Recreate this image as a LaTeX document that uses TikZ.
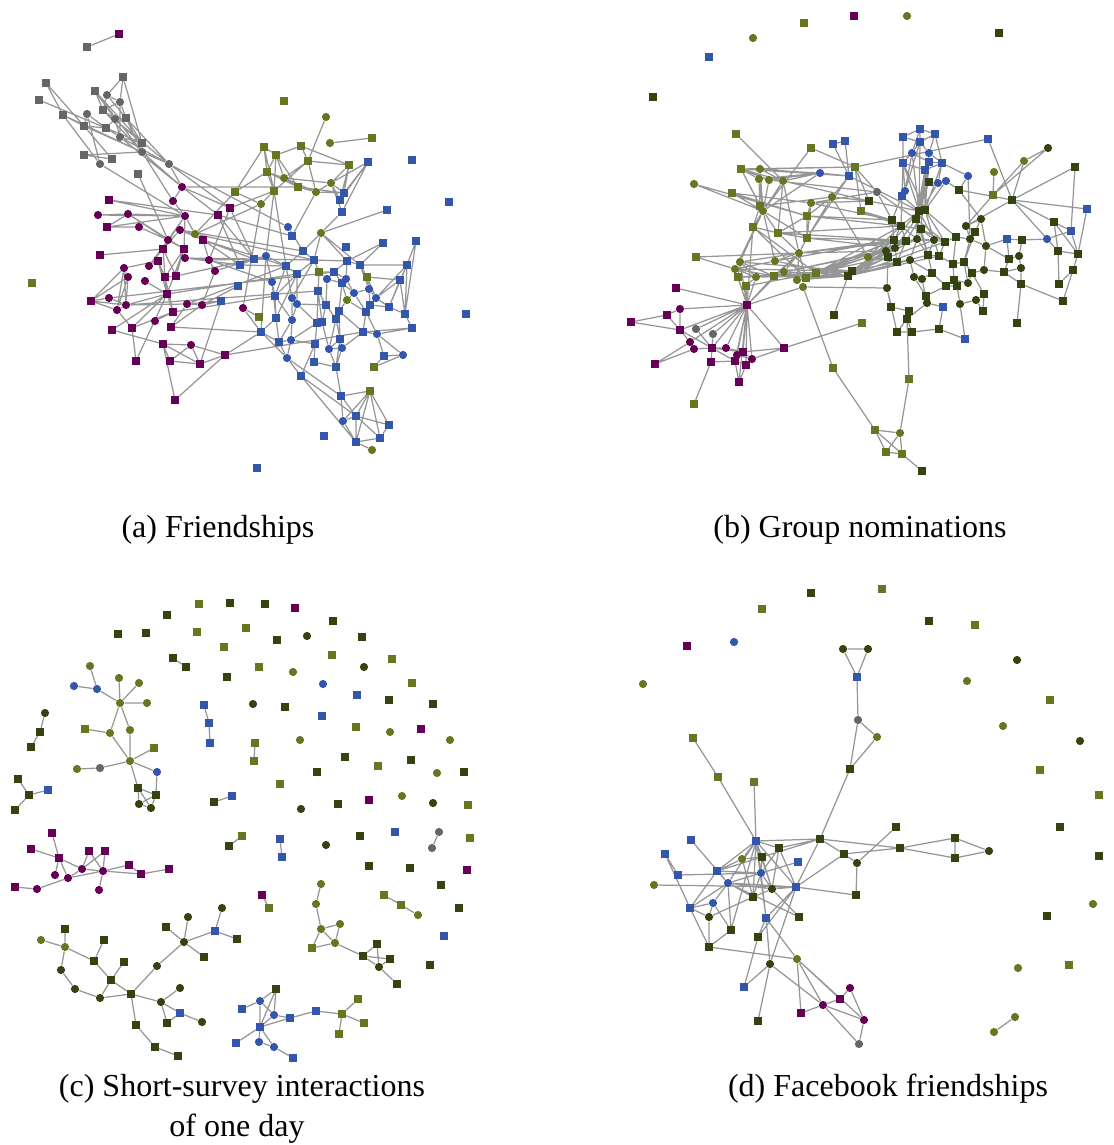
\documentclass[tikz,border=0pt]{standalone}
\usepackage{fontspec}
\setmainfont{Liberation Serif}
\usetikzlibrary{backgrounds}

\definecolor{netpurple}{RGB}{102,0,85}
\definecolor{netblue}{RGB}{51,85,170}
\definecolor{netolive}{RGB}{102,119,34}
\definecolor{netdark}{RGB}{51,68,17}
\definecolor{netgray}{RGB}{102,102,102}
\definecolor{netedge}{RGB}{150,150,150}

\tikzset{
  sqr/.style={rectangle, inner sep=0pt, minimum size=3.8pt},
  rnd/.style={circle, inner sep=0pt, minimum size=4.1pt},
  psq/.style={sqr, fill=netpurple}, pci/.style={rnd, fill=netpurple},
  bsq/.style={sqr, fill=netblue},   bci/.style={rnd, fill=netblue},
  osq/.style={sqr, fill=netolive},  oci/.style={rnd, fill=netolive},
  dsq/.style={sqr, fill=netdark},   dci/.style={rnd, fill=netdark},
  gsq/.style={sqr, fill=netgray},   gci/.style={rnd, fill=netgray},
  tie/.style={draw=netedge, line width=0.62pt},
  subcap/.style={font=\fontsize{16}{20}\selectfont, anchor=base}
}

\begin{document}
\begin{tikzpicture}[x=0.5pt, y=-0.5pt]
\useasboundingbox (0,0) rectangle (1113,1145);

% (a) friendships
\node[gsq] (a1) at (87,47) {};   \node[psq] (a2) at (119,34) {};
\node[gsq] (a3) at (46,83) {};   \node[gsq] (a4) at (39,100) {};
\node[gsq] (a5) at (123,77) {};  \node[gsq] (a6) at (95,91) {};
\node[gci] (a7) at (107,95) {};  \node[gci] (a8) at (120,102) {};
\node[gsq] (a9) at (103,110) {}; \node[gci] (a10) at (115,119) {};
\node[gsq] (a11) at (126,118) {}; \node[gsq] (a12) at (63,115) {};
\node[gci] (a13) at (87,114) {}; \node[gsq] (a14) at (84,126) {};
\node[gsq] (a15) at (106,128) {}; \node[gci] (a16) at (120,137) {};
\node[gsq] (a17) at (142,143) {}; \node[gci] (a18) at (142,152) {};
\node[gsq] (a19) at (84,155) {}; \node[gsq] (a20) at (112,159) {};
\node[gci] (a21) at (100,164) {}; \node[gci] (a22) at (169,164) {};
\node[gsq] (a23) at (138,174) {};
\node[pci] (a24) at (182,187) {}; \node[pci] (a25) at (173,201) {};
\node[psq] (a26) at (109,200) {}; \node[pci] (a27) at (98,215) {};
\node[pci] (a28) at (128,214) {}; \node[pci] (a29) at (185,216) {};
\node[psq] (a30) at (218,215) {}; \node[psq] (a31) at (230,208) {};
\node[osq] (a32) at (235,192) {}; \node[psq] (a33) at (107,227) {};
\node[pci] (a34) at (139,227) {}; \node[pci] (a35) at (180,230) {};
\node[oci] (a36) at (195,234) {}; \node[pci] (a37) at (168,240) {};
\node[psq] (a38) at (203,240) {}; \node[psq] (a39) at (100,255) {};
\node[psq] (a40) at (163,249) {}; \node[psq] (a41) at (184,249) {};
\node[pci] (a42) at (185,258) {}; \node[pci] (a43) at (209,260) {};
\node[bsq] (a44) at (240,265) {}; \node[bsq] (a45) at (254,259) {};
\node[psq] (a46) at (158,261) {}; \node[pci] (a47) at (149,266) {};
\node[pci] (a48) at (124,268) {}; \node[pci] (a49) at (128,277) {};
\node[pci] (a50) at (215,271) {}; \node[pci] (a51) at (145,281) {};
\node[psq] (a52) at (165,277) {}; \node[psq] (a53) at (176,276) {};
\node[osq] (a54) at (32,283) {};  \node[bsq] (a55) at (238,286) {};
\node[psq] (a56) at (91,301) {};  \node[pci] (a57) at (109,298) {};
\node[pci] (a58) at (117,310) {}; \node[pci] (a59) at (126,305) {};
\node[psq] (a60) at (167,294) {}; \node[pci] (a61) at (187,304) {};
\node[pci] (a62) at (202,305) {}; \node[bsq] (a63) at (221,301) {};
\node[pci] (a64) at (243,308) {}; \node[osq] (a65) at (259,317) {};
\node[psq] (a66) at (173,312) {}; \node[pci] (a67) at (155,321) {};
\node[psq] (a68) at (132,328) {}; \node[psq] (a69) at (112,330) {};
\node[psq] (a70) at (171,327) {}; \node[psq] (a71) at (163,344) {};
\node[pci] (a72) at (191,345) {}; \node[psq] (a73) at (225,355) {};
\node[psq] (a74) at (170,361) {}; \node[psq] (a75) at (200,364) {};
\node[psq] (a76) at (136,361) {}; \node[psq] (a77) at (175,400) {};
\node[osq] (a78) at (284,101) {}; \node[oci] (a79) at (326,117) {};
\node[oci] (a80) at (330,143) {}; \node[osq] (a81) at (372,138) {};
\node[osq] (a82) at (264,147) {}; \node[osq] (a83) at (301,146) {};
\node[osq] (a84) at (276,155) {}; \node[osq] (a85) at (308,161) {};
\node[osq] (a86) at (349,165) {}; \node[bsq] (a87) at (368,162) {};
\node[bsq] (a88) at (412,160) {}; \node[osq] (a89) at (267,172) {};
\node[oci] (a90) at (284,178) {}; \node[oci] (a91) at (331,183) {};
\node[osq] (a92) at (298,187) {}; \node[oci] (a93) at (316,192) {};
\node[osq] (a94) at (274,191) {}; \node[bsq] (a95) at (344,193) {};
\node[bsq] (a96) at (340,200) {}; \node[oci] (a97) at (261,204) {};
\node[bsq] (a98) at (342,212) {}; \node[bsq] (a99) at (449,202) {};
\node[bsq] (a100) at (387,210) {}; \node[bci] (a101) at (288,227) {};
\node[bsq] (a102) at (292,236) {}; \node[oci] (a103) at (321,233) {};
\node[bsq] (a104) at (346,247) {}; \node[bsq] (a105) at (383,243) {};
\node[bsq] (a106) at (416,241) {}; \node[bsq] (a107) at (303,251) {};
\node[bci] (a108) at (266,256) {}; \node[bsq] (a109) at (314,260) {};
\node[bsq] (a110) at (347,261) {}; \node[bsq] (a111) at (360,265) {};
\node[bsq] (a112) at (407,265) {}; \node[bsq] (a113) at (286,266) {};
\node[bsq] (a114) at (297,274) {}; \node[osq] (a115) at (319,272) {};
\node[bsq] (a116) at (334,272) {}; \node[bci] (a117) at (327,279) {};
\node[bci] (a118) at (346,279) {}; \node[bsq] (a119) at (342,283) {};
\node[osq] (a120) at (367,277) {}; \node[bsq] (a121) at (400,280) {};
\node[bci] (a122) at (272,282) {}; \node[bsq] (a123) at (318,291) {};
\node[bci] (a124) at (354,293) {}; \node[bci] (a125) at (369,289) {};
\node[oci] (a126) at (347,300) {}; \node[bci] (a127) at (376,298) {};
\node[bsq] (a128) at (275,296) {}; \node[bci] (a129) at (292,298) {};
\node[bci] (a130) at (297,304) {}; \node[bsq] (a131) at (326,305) {};
\node[bsq] (a132) at (370,305) {}; \node[bsq] (a133) at (389,307) {};
\node[bsq] (a134) at (339,311) {}; \node[bsq] (a135) at (366,312) {};
\node[bsq] (a136) at (405,314) {}; \node[bsq] (a137) at (466,314) {};
\node[bsq] (a138) at (276,318) {}; \node[bci] (a139) at (292,320) {};
\node[bsq] (a140) at (336,319) {}; \node[bsq] (a141) at (317,323) {};
\node[bsq] (a142) at (322,322) {}; \node[bsq] (a143) at (261,332) {};
\node[bsq] (a144) at (363,332) {}; \node[bci] (a145) at (377,334) {};
\node[bsq] (a146) at (412,328) {}; \node[bsq] (a147) at (279,342) {};
\node[bci] (a148) at (291,340) {}; \node[bsq] (a149) at (340,339) {};
\node[bsq] (a150) at (315,344) {}; \node[bci] (a151) at (329,349) {};
\node[bci] (a152) at (342,348) {}; \node[bci] (a153) at (287,358) {};
\node[bsq] (a154) at (384,356) {}; \node[bci] (a155) at (403,355) {};
\node[bsq] (a156) at (314,362) {}; \node[bsq] (a157) at (336,367) {};
\node[osq] (a158) at (374,367) {}; \node[bsq] (a159) at (301,376) {};
\node[osq] (a160) at (370,391) {}; \node[bsq] (a161) at (341,396) {};
\node[bsq] (a162) at (356,416) {}; \node[bci] (a163) at (343,421) {};
\node[bsq] (a164) at (389,425) {}; \node[bsq] (a165) at (324,436) {};
\node[bsq] (a166) at (356,442) {}; \node[bsq] (a167) at (380,438) {};
\node[oci] (a168) at (372,450) {}; \node[bsq] (a169) at (257,468) {};

% (b) group nominations
\node[psq] (b1) at (854,16) {};  \node[osq] (b2) at (804,23) {};
\node[oci] (b3) at (753,38) {};  \node[bsq] (b4) at (709,57) {};
\node[dsq] (b5) at (653,97) {};  \node[oci] (b6) at (907,16) {};
\node[dsq] (b7) at (999,33) {};  \node[osq] (b8) at (736,134) {};
\node[osq] (b9) at (811,148) {}; \node[bsq] (b10) at (833,144) {};
\node[bsq] (b11) at (845,141) {}; \node[osq] (b12) at (855,167) {};
\node[bsq] (b13) at (849,176) {}; \node[bci] (b14) at (820,173) {};
\node[osq] (b15) at (741,169) {}; \node[oci] (b16) at (760,169) {};
\node[oci] (b17) at (759,179) {}; \node[oci] (b18) at (769,180) {};
\node[oci] (b19) at (783,181) {}; \node[oci] (b20) at (694,184) {};
\node[osq] (b21) at (732,193) {}; \node[oci] (b22) at (811,203) {};
\node[oci] (b23) at (832,197) {}; \node[gci] (b24) at (877,192) {};
\node[dsq] (b25) at (869,201) {}; \node[osq] (b26) at (861,211) {};
\node[osq] (b27) at (760,206) {}; \node[oci] (b28) at (763,211) {};
\node[osq] (b29) at (807,216) {}; \node[osq] (b30) at (753,227) {};
\node[osq] (b31) at (778,233) {}; \node[osq] (b32) at (807,238) {};
\node[oci] (b33) at (799,253) {}; \node[oci] (b34) at (868,257) {};
\node[osq] (b35) at (696,257) {}; \node[oci] (b36) at (740,262) {};
\node[oci] (b37) at (775,261) {}; \node[oci] (b38) at (735,269) {};
\node[oci] (b39) at (784,272) {}; \node[osq] (b40) at (738,277) {};
\node[oci] (b41) at (756,277) {}; \node[osq] (b42) at (774,276) {};
\node[oci] (b43) at (797,280) {}; \node[osq] (b44) at (806,278) {};
\node[osq] (b45) at (816,273) {}; \node[dsq] (b46) at (852,271) {};
\node[dsq] (b47) at (848,276) {}; \node[osq] (b48) at (746,286) {};
\node[oci] (b49) at (803,287) {}; \node[psq] (b50) at (676,288) {};
\node[psq] (b51) at (747,305) {}; \node[dsq] (b52) at (834,315) {};
\node[osq] (b53) at (862,323) {}; \node[pci] (b54) at (680,309) {};
\node[psq] (b55) at (667,315) {}; \node[psq] (b56) at (631,322) {};
\node[psq] (b57) at (680,330) {}; \node[gci] (b58) at (696,329) {};
\node[gci] (b59) at (713,334) {}; \node[pci] (b60) at (690,342) {};
\node[pci] (b61) at (694,349) {}; \node[psq] (b62) at (712,348) {};
\node[pci] (b63) at (726,348) {}; \node[psq] (b64) at (743,352) {};
\node[pci] (b65) at (737,355) {}; \node[pci] (b66) at (752,359) {};
\node[psq] (b67) at (784,348) {}; \node[psq] (b68) at (711,362) {};
\node[psq] (b69) at (735,361) {}; \node[psq] (b70) at (746,365) {};
\node[psq] (b71) at (655,364) {}; \node[psq] (b72) at (739,382) {};
\node[osq] (b73) at (694,404) {}; \node[osq] (b74) at (833,368) {};
\node[osq] (b75) at (875,430) {};
\node[bsq] (b76) at (920,129) {}; \node[bsq] (b77) at (903,137) {};
\node[bsq] (b78) at (935,134) {}; \node[bsq] (b79) at (920,142) {};
\node[bsq] (b80) at (988,139) {}; \node[bci] (b81) at (912,153) {};
\node[bci] (b82) at (929,153) {}; \node[bsq] (b83) at (903,163) {};
\node[bsq] (b84) at (929,162) {}; \node[bsq] (b85) at (942,163) {};
\node[bsq] (b86) at (925,170) {}; \node[dci] (b87) at (1048,148) {};
\node[oci] (b88) at (1024,161) {}; \node[dsq] (b89) at (1075,167) {};
\node[oci] (b90) at (994,172) {}; \node[bci] (b91) at (968,176) {};
\node[dsq] (b92) at (929,182) {}; \node[bci] (b93) at (938,183) {};
\node[bci] (b94) at (946,181) {}; \node[dsq] (b95) at (959,190) {};
\node[osq] (b96) at (993,195) {}; \node[bci] (b97) at (905,191) {};
\node[bsq] (b98) at (902,196) {}; \node[dsq] (b99) at (1012,200) {};
\node[bsq] (b100) at (1087,209) {}; \node[dsq] (b101) at (919,211) {};
\node[dsq] (b102) at (925,210) {}; \node[dsq] (b103) at (892,220) {};
\node[dsq] (b104) at (916,219) {}; \node[dsq] (b105) at (901,226) {};
\node[dci] (b106) at (966,226) {}; \node[dci] (b107) at (981,219) {};
\node[dsq] (b108) at (975,232) {}; \node[dsq] (b109) at (1054,222) {};
\node[bsq] (b110) at (1071,231) {}; \node[dsq] (b111) at (921,229) {};
\node[dsq] (b112) at (894,240) {}; \node[dsq] (b113) at (906,241) {};
\node[dci] (b114) at (917,239) {}; \node[dci] (b115) at (934,240) {};
\node[dsq] (b116) at (945,242) {}; \node[dsq] (b117) at (956,237) {};
\node[dci] (b118) at (970,239) {}; \node[bsq] (b119) at (1007,239) {};
\node[dsq] (b120) at (1022,240) {}; \node[bci] (b121) at (1047,239) {};
\node[dci] (b122) at (986,246) {}; \node[dsq] (b123) at (1058,251) {};
\node[dsq] (b124) at (1078,254) {}; \node[dci] (b125) at (886,251) {};
\node[dci] (b126) at (895,248) {}; \node[dsq] (b127) at (888,257) {};
\node[dsq] (b128) at (928,255) {}; \node[dsq] (b129) at (939,256) {};
\node[dci] (b130) at (910,260) {}; \node[dsq] (b131) at (897,262) {};
\node[dsq] (b132) at (953,264) {}; \node[dsq] (b133) at (964,262) {};
\node[dsq] (b134) at (1009,259) {}; \node[dci] (b135) at (1019,256) {};
\node[dci] (b136) at (984,270) {}; \node[dsq] (b137) at (1004,272) {};
\node[dci] (b138) at (1021,268) {}; \node[dsq] (b139) at (1073,270) {};
\node[dsq] (b140) at (932,273) {}; \node[dsq] (b141) at (972,273) {};
\node[dci] (b142) at (914,277) {}; \node[dci] (b143) at (922,279) {};
\node[dsq] (b144) at (954,280) {}; \node[dci] (b145) at (968,283) {};
\node[dsq] (b146) at (946,286) {}; \node[dsq] (b147) at (957,286) {};
\node[dsq] (b148) at (1021,284) {}; \node[dsq] (b149) at (1059,284) {};
\node[dci] (b150) at (887,288) {}; \node[dsq] (b151) at (984,294) {};
\node[dsq] (b152) at (926,296) {}; \node[dci] (b153) at (927,303) {};
\node[dci] (b154) at (960,304) {}; \node[dci] (b155) at (976,300) {};
\node[bsq] (b156) at (943,307) {}; \node[dsq] (b157) at (891,307) {};
\node[dsq] (b158) at (909,311) {}; \node[dsq] (b159) at (983,311) {};
\node[dsq] (b160) at (1063,301) {}; \node[dsq] (b161) at (907,319) {};
\node[dsq] (b162) at (897,332) {}; \node[dsq] (b163) at (912,332) {};
\node[dsq] (b164) at (939,329) {}; \node[dsq] (b165) at (1017,323) {};
\node[bsq] (b166) at (965,339) {}; \node[osq] (b167) at (909,379) {};
\node[oci] (b168) at (900,433) {}; \node[osq] (b169) at (886,452) {};
\node[osq] (b170) at (902,454) {}; \node[dsq] (b171) at (922,471) {};

% (c) short-survey interactions
\node[osq] (c1) at (199,604) {};  \node[dsq] (c2) at (230,603) {};
\node[dsq] (c3) at (167,615) {};  \node[dsq] (c4) at (118,634) {};
\node[dsq] (c5) at (146,633) {};  \node[osq] (c6) at (197,632) {};
\node[osq] (c7) at (224,647) {};  \node[dsq] (c8) at (173,658) {};
\node[dsq] (c9) at (186,667) {};  \node[dsq] (c10) at (227,677) {};
\node[oci] (c11) at (90,666) {};  \node[oci] (c12) at (119,678) {};
\node[oci] (c13) at (139,683) {}; \node[bci] (c14) at (74,686) {};
\node[bci] (c15) at (97,689) {};  \node[oci] (c16) at (120,703) {};
\node[oci] (c17) at (147,703) {}; \node[dci] (c18) at (45,713) {};
\node[dsq] (c19) at (40,732) {};  \node[dsq] (c20) at (31,747) {};
\node[osq] (c21) at (85,729) {};  \node[oci] (c22) at (110,733) {};
\node[oci] (c23) at (130,730) {}; \node[osq] (c24) at (154,748) {};
\node[oci] (c25) at (130,761) {}; \node[oci] (c26) at (77,769) {};
\node[gci] (c27) at (100,768) {}; \node[bci] (c28) at (157,772) {};
\node[bsq] (c29) at (204,705) {}; \node[bsq] (c30) at (209,723) {};
\node[bsq] (c31) at (210,743) {}; \node[dsq] (c32) at (18,779) {};
\node[dsq] (c33) at (29,795) {};  \node[bsq] (c34) at (48,790) {};
\node[dsq] (c35) at (15,810) {};  \node[dsq] (c36) at (138,788) {};
\node[dsq] (c37) at (156,795) {}; \node[dci] (c38) at (139,804) {};
\node[dci] (c39) at (151,808) {}; \node[dsq] (c40) at (214,802) {};
\node[bsq] (c41) at (232,796) {}; \node[dsq] (c42) at (229,846) {};
\node[osq] (c43) at (242,836) {}; \node[psq] (c44) at (52,833) {};
\node[psq] (c45) at (31,849) {};  \node[psq] (c46) at (59,858) {};
\node[psq] (c47) at (89,851) {};  \node[psq] (c48) at (105,851) {};
\node[pci] (c49) at (82,869) {};  \node[pci] (c50) at (103,871) {};
\node[pci] (c51) at (55,875) {};  \node[pci] (c52) at (68,878) {};
\node[psq] (c53) at (129,865) {}; \node[psq] (c54) at (141,874) {};
\node[psq] (c55) at (169,869) {}; \node[psq] (c56) at (15,887) {};
\node[pci] (c57) at (37,889) {};  \node[pci] (c58) at (99,890) {};
\node[dci] (c59) at (222,908) {}; \node[dci] (c60) at (188,917) {};
\node[dsq] (c61) at (166,927) {}; \node[bsq] (c62) at (215,931) {};
\node[dsq] (c63) at (237,939) {}; \node[dci] (c64) at (184,942) {};
\node[dsq] (c65) at (204,957) {}; \node[dci] (c66) at (157,966) {};
\node[dsq] (c67) at (65,929) {};  \node[oci] (c68) at (41,940) {};
\node[oci] (c69) at (65,947) {};  \node[dsq] (c70) at (104,940) {};
\node[dsq] (c71) at (94,961) {};  \node[dsq] (c72) at (124,962) {};
\node[dci] (c73) at (61,970) {};  \node[dsq] (c74) at (111,980) {};
\node[dci] (c75) at (75,989) {};  \node[dci] (c76) at (100,998) {};
\node[dsq] (c77) at (131,994) {}; \node[dci] (c78) at (180,988) {};
\node[dci] (c79) at (161,1002) {}; \node[bsq] (c80) at (180,1013) {};
\node[dsq] (c81) at (167,1023) {}; \node[dci] (c82) at (202,1022) {};
\node[dsq] (c83) at (136,1025) {}; \node[dsq] (c84) at (155,1047) {};
\node[dsq] (c85) at (178,1056) {};
\node[dsq] (c86) at (265,604) {}; \node[psq] (c87) at (295,608) {};
\node[dsq] (c88) at (333,621) {}; \node[osq] (c89) at (246,628) {};
\node[dsq] (c90) at (277,640) {}; \node[dci] (c91) at (307,636) {};
\node[dsq] (c92) at (362,637) {}; \node[osq] (c93) at (332,655) {};
\node[osq] (c94) at (259,667) {}; \node[oci] (c95) at (293,672) {};
\node[dci] (c96) at (364,667) {}; \node[osq] (c97) at (392,659) {};
\node[bci] (c98) at (323,684) {}; \node[osq] (c99) at (412,683) {};
\node[bsq] (c100) at (357,695) {}; \node[dsq] (c101) at (389,700) {};
\node[dci] (c102) at (253,704) {}; \node[dsq] (c103) at (285,707) {};
\node[dsq] (c104) at (433,704) {}; \node[bsq] (c105) at (322,716) {};
\node[osq] (c106) at (356,727) {}; \node[oci] (c107) at (390,732) {};
\node[psq] (c108) at (421,729) {}; \node[oci] (c109) at (450,740) {};
\node[osq] (c110) at (255,743) {}; \node[osq] (c111) at (254,761) {};
\node[oci] (c112) at (300,740) {}; \node[dsq] (c113) at (345,757) {};
\node[osq] (c114) at (378,766) {}; \node[dsq] (c115) at (411,760) {};
\node[dsq] (c116) at (317,772) {}; \node[oci] (c117) at (437,773) {};
\node[dsq] (c118) at (464,772) {}; \node[osq] (c119) at (280,784) {};
\node[dci] (c120) at (301,809) {}; \node[dsq] (c121) at (338,804) {};
\node[psq] (c122) at (369,800) {}; \node[oci] (c123) at (402,796) {};
\node[dci] (c124) at (433,803) {}; \node[osq] (c125) at (468,805) {};
\node[bsq] (c126) at (280,839) {}; \node[bsq] (c127) at (282,857) {};
\node[dci] (c128) at (326,845) {}; \node[dsq] (c129) at (360,836) {};
\node[bsq] (c130) at (395,832) {}; \node[gci] (c131) at (439,832) {};
\node[gci] (c132) at (432,848) {}; \node[osq] (c133) at (470,838) {};
\node[dsq] (c134) at (369,866) {}; \node[dsq] (c135) at (410,868) {};
\node[psq] (c136) at (467,870) {}; \node[dsq] (c137) at (441,885) {};
\node[oci] (c138) at (321,884) {}; \node[oci] (c139) at (316,904) {};
\node[psq] (c140) at (262,895) {}; \node[osq] (c141) at (269,908) {};
\node[dsq] (c142) at (459,908) {}; \node[osq] (c143) at (384,895) {};
\node[osq] (c144) at (401,905) {}; \node[oci] (c145) at (418,915) {};
\node[bsq] (c146) at (444,936) {}; \node[oci] (c147) at (340,924) {};
\node[oci] (c148) at (321,929) {}; \node[oci] (c149) at (335,943) {};
\node[osq] (c150) at (312,948) {}; \node[dsq] (c151) at (377,944) {};
\node[dsq] (c152) at (363,956) {}; \node[dsq] (c153) at (390,959) {};
\node[dci] (c154) at (379,967) {}; \node[dsq] (c155) at (430,965) {};
\node[dsq] (c156) at (397,984) {}; \node[dsq] (c157) at (276,989) {};
\node[bci] (c158) at (260,1001) {}; \node[bsq] (c159) at (242,1009) {};
\node[bci] (c160) at (274,1015) {}; \node[bsq] (c161) at (290,1018) {};
\node[bsq] (c162) at (316,1011) {}; \node[osq] (c163) at (342,1014) {};
\node[osq] (c164) at (358,999) {};  \node[osq] (c165) at (364,1023) {};
\node[osq] (c166) at (339,1034) {}; \node[bsq] (c167) at (260,1027) {};
\node[bsq] (c168) at (236,1043) {}; \node[bci] (c169) at (259,1042) {};
\node[bci] (c170) at (274,1047) {}; \node[bsq] (c171) at (293,1058) {};

% (d) facebook friendships
\node[dsq] (d1) at (811,593) {};  \node[osq] (d2) at (762,609) {};
\node[psq] (d3) at (687,646) {};  \node[bci] (d4) at (734,642) {};
\node[oci] (d5) at (643,684) {};  \node[dci] (d6) at (843,649) {};
\node[dci] (d7) at (868,649) {};  \node[bsq] (d8) at (857,677) {};
\node[gci] (d9) at (858,720) {};  \node[oci] (d10) at (877,737) {};
\node[dsq] (d11) at (850,769) {}; \node[osq] (d12) at (693,738) {};
\node[osq] (d13) at (718,777) {}; \node[osq] (d14) at (754,782) {};
\node[bsq] (d15) at (756,841) {}; \node[dsq] (d16) at (820,839) {};
\node[bsq] (d17) at (691,840) {}; \node[bsq] (d18) at (665,854) {};
\node[dsq] (d19) at (779,848) {}; \node[oci] (d20) at (742,859) {};
\node[dsq] (d21) at (762,857) {}; \node[bsq] (d22) at (798,862) {};
\node[dsq] (d23) at (844,854) {}; \node[dci] (d24) at (857,863) {};
\node[bsq] (d25) at (678,875) {}; \node[bsq] (d26) at (717,871) {};
\node[bci] (d27) at (761,873) {}; \node[oci] (d28) at (654,885) {};
\node[bci] (d29) at (728,883) {}; \node[bsq] (d30) at (796,887) {};
\node[dci] (d31) at (772,889) {}; \node[dsq] (d32) at (856,895) {};
\node[dsq] (d33) at (753,897) {}; \node[bsq] (d34) at (690,908) {};
\node[bci] (d35) at (713,903) {}; \node[dci] (d36) at (709,917) {};
\node[dsq] (d37) at (799,917) {}; \node[bsq] (d38) at (766,918) {};
\node[dsq] (d39) at (731,930) {}; \node[dsq] (d40) at (758,937) {};
\node[dsq] (d41) at (709,947) {}; \node[oci] (d42) at (797,959) {};
\node[dci] (d43) at (770,964) {}; \node[bsq] (d44) at (744,987) {};
\node[pci] (d45) at (850,988) {}; \node[psq] (d46) at (840,999) {};
\node[pci] (d47) at (823,1005) {}; \node[psq] (d48) at (801,1013) {};
\node[pci] (d49) at (864,1020) {}; \node[dsq] (d50) at (758,1021) {};
\node[gci] (d51) at (859,1044) {}; \node[osq] (d52) at (882,589) {};
\node[dsq] (d53) at (929,621) {}; \node[osq] (d54) at (975,625) {};
\node[dci] (d55) at (1017,660) {}; \node[oci] (d56) at (967,681) {};
\node[osq] (d57) at (1050,700) {}; \node[oci] (d58) at (1003,726) {};
\node[dci] (d59) at (1080,741) {}; \node[osq] (d60) at (1040,770) {};
\node[osq] (d61) at (1099,795) {}; \node[dsq] (d62) at (1060,827) {};
\node[dsq] (d63) at (1099,856) {}; \node[oci] (d64) at (1093,904) {};
\node[dsq] (d65) at (1047,916) {}; \node[oci] (d66) at (1018,968) {};
\node[osq] (d67) at (1069,965) {}; \node[oci] (d68) at (1015,1017) {};
\node[oci] (d69) at (994,1032) {}; \node[dsq] (d70) at (896,827) {};
\node[dsq] (d71) at (900,848) {}; \node[dsq] (d72) at (955,838) {};
\node[dsq] (d73) at (955,858) {}; \node[dci] (d74) at (989,851) {};

\begin{scope}[on background layer]
% ties in (a)
\draw[tie] (a1)--(a2) (a3)--(a12) (a3)--(a14) (a4)--(a15) (a5)--(a7) (a5)--(a8) (a5)--(a17)
  (a6)--(a9) (a6)--(a10) (a6)--(a17) (a6)--(a18) (a7)--(a9) (a7)--(a8) (a7)--(a11)
  (a8)--(a9) (a8)--(a11) (a8)--(a16) (a9)--(a10) (a9)--(a17) (a9)--(a18) (a9)--(a22)
  (a10)--(a11) (a10)--(a16) (a10)--(a15) (a11)--(a17) (a11)--(a18) (a11)--(a22)
  (a12)--(a14) (a12)--(a21) (a12)--(a18) (a13)--(a14) (a13)--(a15) (a13)--(a21)
  (a14)--(a15) (a14)--(a18) (a14)--(a22) (a15)--(a16) (a15)--(a17) (a16)--(a17) (a16)--(a22)
  (a17)--(a18) (a18)--(a22) (a18)--(a25) (a19)--(a20) (a19)--(a18) (a20)--(a14)
  (a21)--(a29) (a22)--(a24) (a22)--(a31) (a23)--(a37) (a24)--(a25) (a24)--(a31) (a24)--(a30)
  (a25)--(a29) (a26)--(a29) (a26)--(a30) (a27)--(a28) (a27)--(a29) (a28)--(a29) (a28)--(a33)
  (a28)--(a37) (a28)--(a41) (a29)--(a36) (a29)--(a41) (a29)--(a40) (a29)--(a37)
  (a30)--(a44) (a30)--(a45) (a31)--(a45) (a31)--(a43) (a32)--(a82) (a32)--(a89) (a32)--(a97)
  (a32)--(a36) (a33)--(a34) (a33)--(a29) (a34)--(a37) (a35)--(a36) (a35)--(a38) (a35)--(a40)
  (a36)--(a38) (a36)--(a97) (a37)--(a40) (a37)--(a41) (a37)--(a47) (a38)--(a44) (a38)--(a45)
  (a38)--(a43) (a39)--(a40) (a40)--(a47) (a40)--(a52) (a40)--(a53) (a41)--(a42) (a41)--(a53)
  (a41)--(a60) (a41)--(a52) (a42)--(a44) (a42)--(a45) (a42)--(a43) (a43)--(a45) (a43)--(a50)
  (a44)--(a45) (a46)--(a47) (a46)--(a60) (a46)--(a52) (a48)--(a56) (a48)--(a49) (a48)--(a58)
  (a48)--(a59) (a48)--(a46) (a49)--(a56) (a49)--(a59) (a49)--(a58) (a50)--(a45) (a50)--(a62)
  (a51)--(a60) (a52)--(a53) (a52)--(a60) (a52)--(a66) (a53)--(a45) (a56)--(a57) (a56)--(a58)
  (a56)--(a59) (a57)--(a59) (a58)--(a59) (a58)--(a68) (a59)--(a60) (a59)--(a61) (a60)--(a66)
  (a60)--(a68) (a60)--(a69) (a60)--(a76) (a61)--(a62) (a61)--(a70) (a61)--(a63) (a62)--(a63)
  (a62)--(a55) (a62)--(a70) (a63)--(a75) (a64)--(a65) (a64)--(a143) (a66)--(a67) (a66)--(a68)
  (a69)--(a71) (a71)--(a72) (a71)--(a74) (a71)--(a75) (a71)--(a77) (a72)--(a75) (a72)--(a73)
  (a72)--(a74) (a73)--(a75) (a73)--(a143) (a73)--(a144) (a74)--(a75) (a68)--(a76) (a77)--(a73)
  (a97)--(a64) (a35)--(a107) (a36)--(a109) (a38)--(a113) (a24)--(a92) (a22)--(a101)
  (a42)--(a109) (a43)--(a122) (a59)--(a123) (a60)--(a114) (a61)--(a113) (a66)--(a128)
  (a70)--(a143) (a57)--(a116) (a18)--(a24) (a16)--(a24) (a53)--(a108) (a45)--(a108)
  (a44)--(a113) (a30)--(a102) (a31)--(a94);
\draw[tie] (a79)--(a85) (a80)--(a81) (a82)--(a84) (a82)--(a94) (a82)--(a89) (a83)--(a84)
  (a83)--(a85) (a83)--(a86) (a84)--(a89) (a84)--(a90) (a84)--(a94) (a84)--(a92) (a85)--(a86)
  (a85)--(a90) (a85)--(a93) (a85)--(a94) (a86)--(a91) (a86)--(a96) (a86)--(a95) (a87)--(a95)
  (a87)--(a96) (a87)--(a98) (a87)--(a91) (a89)--(a94) (a89)--(a92) (a89)--(a90) (a90)--(a92)
  (a90)--(a93) (a90)--(a91) (a91)--(a93) (a91)--(a95) (a91)--(a96) (a91)--(a98) (a92)--(a93)
  (a92)--(a95) (a93)--(a95) (a93)--(a102) (a94)--(a97) (a94)--(a113) (a94)--(a108)
  (a98)--(a103) (a100)--(a103) (a101)--(a107) (a103)--(a107) (a103)--(a109) (a103)--(a110)
  (a103)--(a111) (a105)--(a111) (a105)--(a110) (a106)--(a112) (a106)--(a136) (a107)--(a109)
  (a107)--(a113) (a108)--(a113) (a108)--(a122) (a108)--(a128) (a108)--(a143) (a109)--(a110)
  (a109)--(a114) (a109)--(a115) (a109)--(a129) (a110)--(a111) (a110)--(a116) (a110)--(a118)
  (a111)--(a112) (a111)--(a120) (a111)--(a125) (a112)--(a121) (a112)--(a127) (a112)--(a133)
  (a112)--(a136) (a113)--(a114) (a113)--(a128) (a113)--(a129) (a114)--(a128) (a114)--(a130)
  (a114)--(a138) (a115)--(a117) (a115)--(a123) (a115)--(a116) (a116)--(a117) (a116)--(a118)
  (a116)--(a119) (a117)--(a119) (a117)--(a131) (a118)--(a119) (a118)--(a124) (a119)--(a124)
  (a119)--(a126) (a119)--(a134) (a120)--(a125) (a120)--(a127) (a120)--(a121) (a121)--(a127)
  (a121)--(a133) (a121)--(a136) (a122)--(a128) (a122)--(a138) (a123)--(a131) (a123)--(a141)
  (a123)--(a142) (a124)--(a126) (a124)--(a125) (a124)--(a135) (a125)--(a127) (a125)--(a132)
  (a126)--(a134) (a126)--(a135) (a127)--(a133) (a127)--(a132) (a128)--(a138) (a128)--(a139)
  (a129)--(a130) (a129)--(a139) (a130)--(a131) (a130)--(a141) (a130)--(a139) (a131)--(a140)
  (a131)--(a142) (a132)--(a135) (a132)--(a133) (a133)--(a136) (a134)--(a140) (a134)--(a144)
  (a134)--(a149) (a135)--(a144) (a135)--(a145) (a136)--(a146) (a138)--(a147) (a138)--(a143)
  (a139)--(a148) (a139)--(a147) (a140)--(a149) (a140)--(a151) (a140)--(a152) (a141)--(a150)
  (a141)--(a142) (a141)--(a148) (a142)--(a151) (a143)--(a147) (a143)--(a153) (a144)--(a145)
  (a144)--(a146) (a144)--(a152) (a145)--(a146) (a145)--(a154) (a145)--(a155) (a147)--(a153)
  (a147)--(a148) (a148)--(a153) (a148)--(a150) (a149)--(a152) (a149)--(a157) (a149)--(a151)
  (a150)--(a156) (a150)--(a159) (a151)--(a152) (a151)--(a157) (a152)--(a157) (a153)--(a159)
  (a153)--(a161) (a154)--(a155) (a154)--(a158) (a155)--(a158) (a156)--(a157) (a157)--(a161)
  (a159)--(a162) (a159)--(a166) (a160)--(a161) (a160)--(a162) (a160)--(a163) (a160)--(a164)
  (a160)--(a166) (a160)--(a167) (a161)--(a162) (a161)--(a163) (a162)--(a163) (a162)--(a166)
  (a162)--(a167) (a163)--(a166) (a164)--(a167) (a164)--(a162) (a166)--(a167) (a166)--(a168);

% ties in (b)
\draw[tie] (b8)--(b19) (b9)--(b28) (b9)--(b12) (b10)--(b11) (b10)--(b13) (b11)--(b13)
  (b13)--(b14) (b13)--(b12) (b13)--(b23) (b13)--(b32) (b14)--(b19) (b14)--(b18) (b14)--(b15)
  (b15)--(b16) (b15)--(b17) (b15)--(b18) (b15)--(b19) (b15)--(b27) (b15)--(b28) (b15)--(b12)
  (b16)--(b19) (b16)--(b28) (b16)--(b12) (b17)--(b28) (b17)--(b27) (b18)--(b28) (b19)--(b28)
  (b19)--(b31) (b19)--(b33) (b20)--(b28) (b21)--(b28) (b21)--(b29) (b22)--(b29) (b22)--(b24)
  (b23)--(b29) (b23)--(b34) (b23)--(b32) (b23)--(b25) (b27)--(b30) (b28)--(b30) (b28)--(b31)
  (b28)--(b32) (b28)--(b36) (b28)--(b37) (b28)--(b38) (b29)--(b32) (b29)--(b31) (b30)--(b31)
  (b31)--(b32) (b31)--(b33) (b32)--(b33) (b32)--(b22) (b33)--(b36) (b33)--(b37) (b33)--(b39)
  (b33)--(b42) (b33)--(b43) (b33)--(b44) (b35)--(b38) (b36)--(b40) (b36)--(b41) (b36)--(b42)
  (b38)--(b41) (b38)--(b42) (b38)--(b37) (b39)--(b44) (b39)--(b43) (b39)--(b45) (b40)--(b41)
  (b40)--(b42) (b41)--(b51) (b44)--(b46) (b45)--(b46) (b45)--(b47) (b44)--(b47) (b43)--(b47)
  (b42)--(b46) (b47)--(b112) (b46)--(b125) (b46)--(b113) (b47)--(b127) (b45)--(b105)
  (b44)--(b112) (b48)--(b51) (b48)--(b41) (b49)--(b74) (b74)--(b75) (b50)--(b51)
  (b51)--(b54) (b51)--(b57) (b51)--(b58) (b51)--(b59) (b51)--(b60) (b51)--(b62) (b51)--(b63)
  (b51)--(b64) (b51)--(b65) (b51)--(b66) (b51)--(b67) (b51)--(b69) (b51)--(b70) (b51)--(b72)
  (b51)--(b38) (b51)--(b40) (b51)--(b36) (b51)--(b33) (b51)--(b42) (b51)--(b49) (b51)--(b30)
  (b54)--(b55) (b54)--(b57) (b55)--(b56) (b56)--(b57) (b55)--(b57) (b57)--(b60) (b57)--(b62)
  (b58)--(b62) (b59)--(b62) (b60)--(b61) (b61)--(b62) (b61)--(b71) (b60)--(b71) (b62)--(b63)
  (b62)--(b64) (b62)--(b68) (b62)--(b69) (b63)--(b64) (b64)--(b65) (b64)--(b66) (b65)--(b66)
  (b64)--(b67) (b66)--(b67) (b65)--(b69) (b69)--(b70) (b70)--(b66) (b69)--(b72) (b70)--(b72)
  (b68)--(b69) (b68)--(b73) (b67)--(b53) (b52)--(b47) (b33)--(b112) (b33)--(b125)
  (b31)--(b105) (b29)--(b103) (b32)--(b113) (b44)--(b125) (b45)--(b127) (b49)--(b150)
  (b39)--(b126) (b34)--(b112) (b34)--(b105) (b22)--(b25) (b25)--(b101) (b24)--(b103)
  (b26)--(b103) (b12)--(b24) (b12)--(b25) (b12)--(b26) (b26)--(b105) (b13)--(b101)
  (b46)--(b112) (b46)--(b114) (b46)--(b115) (b46)--(b126) (b46)--(b131) (b47)--(b113)
  (b47)--(b130) (b47)--(b128) (b47)--(b129) (b47)--(b116) (b45)--(b112) (b45)--(b113)
  (b44)--(b126) (b43)--(b112) (b43)--(b125) (b39)--(b125) (b42)--(b47) (b41)--(b47)
  (b40)--(b46) (b36)--(b46) (b38)--(b46) (b22)--(b103) (b29)--(b105) (b31)--(b112)
  (b32)--(b126) (b33)--(b113) (b37)--(b112) (b19)--(b25) (b18)--(b24) (b16)--(b13)
  (b17)--(b14) (b27)--(b23) (b28)--(b14) (b30)--(b45) (b37)--(b47) (b15)--(b13)
  (b21)--(b22) (b20)--(b29) (b35)--(b33) (b30)--(b44) (b48)--(b45);
\draw[tie] (b76)--(b77) (b76)--(b78) (b76)--(b79) (b77)--(b79) (b78)--(b79) (b76)--(b81)
  (b78)--(b82) (b77)--(b83) (b79)--(b81) (b79)--(b82) (b81)--(b83) (b81)--(b84) (b82)--(b84)
  (b82)--(b85) (b83)--(b86) (b84)--(b86) (b85)--(b86) (b78)--(b85) (b84)--(b85) (b80)--(b12)
  (b80)--(b99) (b83)--(b98) (b83)--(b97) (b86)--(b92) (b84)--(b101) (b86)--(b102) (b85)--(b93)
  (b81)--(b97) (b79)--(b97) (b87)--(b96) (b87)--(b88) (b88)--(b96) (b88)--(b99) (b89)--(b99)
  (b90)--(b96) (b91)--(b95) (b91)--(b85) (b92)--(b93) (b93)--(b94) (b94)--(b95) (b92)--(b101)
  (b93)--(b104) (b95)--(b99) (b99)--(b100) (b99)--(b123) (b99)--(b109) (b99)--(b106)
  (b100)--(b124) (b101)--(b102) (b101)--(b104) (b102)--(b104) (b101)--(b105) (b104)--(b111)
  (b104)--(b114) (b102)--(b115) (b103)--(b105) (b103)--(b112) (b97)--(b98) (b98)--(b101)
  (b98)--(b103) (b98)--(b105) (b105)--(b112) (b105)--(b113) (b105)--(b114) (b105)--(b111)
  (b106)--(b107) (b106)--(b108) (b107)--(b108) (b106)--(b118) (b107)--(b122) (b108)--(b118)
  (b108)--(b133) (b109)--(b110) (b109)--(b123) (b109)--(b124) (b110)--(b124) (b110)--(b121)
  (b111)--(b114) (b111)--(b115) (b111)--(b116) (b112)--(b113) (b112)--(b125) (b112)--(b126)
  (b113)--(b114) (b113)--(b126) (b113)--(b131) (b114)--(b115) (b114)--(b130) (b115)--(b116)
  (b115)--(b128) (b115)--(b129) (b116)--(b117) (b116)--(b129) (b117)--(b118) (b117)--(b132)
  (b118)--(b122) (b118)--(b133) (b119)--(b120) (b119)--(b122) (b119)--(b134) (b120)--(b121)
  (b120)--(b135) (b121)--(b123) (b122)--(b136) (b122)--(b134) (b123)--(b124) (b123)--(b149)
  (b124)--(b139) (b125)--(b126) (b125)--(b127) (b126)--(b131) (b127)--(b131) (b127)--(b150)
  (b128)--(b129) (b128)--(b140) (b129)--(b132) (b130)--(b131) (b130)--(b142) (b130)--(b140)
  (b132)--(b133) (b132)--(b144) (b133)--(b141) (b133)--(b145) (b134)--(b135) (b134)--(b137)
  (b135)--(b138) (b136)--(b137) (b136)--(b141) (b137)--(b138) (b137)--(b148) (b138)--(b148)
  (b139)--(b149) (b139)--(b160) (b140)--(b143) (b140)--(b146) (b141)--(b145) (b141)--(b151)
  (b142)--(b143) (b142)--(b152) (b143)--(b153) (b144)--(b145) (b144)--(b147) (b146)--(b147)
  (b146)--(b152) (b147)--(b154) (b148)--(b165) (b148)--(b160) (b150)--(b157) (b150)--(b162)
  (b151)--(b155) (b151)--(b159) (b154)--(b155) (b154)--(b166) (b155)--(b159) (b152)--(b153)
  (b153)--(b156) (b153)--(b161) (b156)--(b164) (b157)--(b158) (b158)--(b161) (b161)--(b162)
  (b161)--(b163) (b162)--(b163) (b163)--(b164) (b161)--(b167) (b167)--(b168) (b168)--(b169)
  (b168)--(b170) (b169)--(b170) (b170)--(b171) (b75)--(b168) (b75)--(b169) (b75)--(b170)
  (b164)--(b166) (b89)--(b110) (b95)--(b107) (b96)--(b106) (b91)--(b118) (b104)--(b116)
  (b102)--(b117) (b83)--(b101) (b83)--(b102) (b86)--(b101) (b86)--(b104) (b84)--(b102)
  (b82)--(b102) (b81)--(b101) (b79)--(b101) (b85)--(b102) (b92)--(b104) (b86)--(b111)
  (b84)--(b104) (b94)--(b102) (b24)--(b104) (b101)--(b112) (b102)--(b113) (b104)--(b126)
  (b101)--(b115) (b102)--(b116) (b104)--(b128) (b111)--(b128) (b114)--(b128) (b113)--(b115);

% ties in (c)
\draw[tie] (c8)--(c9) (c11)--(c15) (c14)--(c15) (c15)--(c16) (c12)--(c16) (c13)--(c16)
  (c16)--(c17) (c16)--(c22) (c16)--(c23) (c18)--(c19) (c19)--(c20) (c21)--(c22) (c22)--(c25)
  (c23)--(c25) (c24)--(c25) (c25)--(c27) (c26)--(c27) (c25)--(c28) (c25)--(c36) (c28)--(c37)
  (c29)--(c30) (c30)--(c31) (c32)--(c33) (c33)--(c34) (c33)--(c35) (c36)--(c37) (c36)--(c38)
  (c36)--(c39) (c37)--(c38) (c37)--(c39) (c38)--(c39) (c40)--(c41) (c42)--(c43)
  (c44)--(c46) (c45)--(c46) (c46)--(c49) (c46)--(c51) (c46)--(c52) (c47)--(c49) (c47)--(c50)
  (c48)--(c49) (c48)--(c50) (c49)--(c50) (c49)--(c52) (c50)--(c53) (c50)--(c54) (c50)--(c58)
  (c53)--(c54) (c54)--(c55) (c56)--(c57) (c57)--(c52) (c52)--(c50)
  (c59)--(c62) (c62)--(c63) (c60)--(c64) (c61)--(c64) (c62)--(c64) (c64)--(c65) (c64)--(c66)
  (c66)--(c77) (c67)--(c69) (c68)--(c69) (c69)--(c71) (c69)--(c73) (c70)--(c71) (c71)--(c74)
  (c72)--(c74) (c74)--(c77) (c74)--(c76) (c73)--(c75) (c75)--(c76) (c76)--(c77) (c77)--(c79)
  (c77)--(c83) (c78)--(c79) (c79)--(c80) (c79)--(c81) (c80)--(c81) (c80)--(c82) (c83)--(c84)
  (c84)--(c85)
  (c110)--(c111) (c126)--(c127) (c131)--(c132) (c140)--(c141) (c143)--(c144) (c144)--(c145)
  (c138)--(c139) (c139)--(c148) (c148)--(c147) (c148)--(c149) (c148)--(c150) (c147)--(c149)
  (c150)--(c149) (c149)--(c152) (c151)--(c152) (c151)--(c154) (c152)--(c153) (c152)--(c154)
  (c153)--(c154) (c154)--(c156)
  (c157)--(c158) (c157)--(c160) (c157)--(c167) (c158)--(c159) (c158)--(c167) (c158)--(c160)
  (c160)--(c161) (c160)--(c167) (c161)--(c162) (c162)--(c163) (c163)--(c164) (c163)--(c165)
  (c163)--(c166) (c167)--(c168) (c167)--(c169) (c167)--(c170) (c169)--(c170) (c170)--(c171)
  (c167)--(c161);

% ties in (d)
\draw[tie] (d6)--(d7) (d6)--(d8) (d7)--(d8) (d8)--(d9) (d9)--(d10) (d9)--(d11) (d10)--(d11)
  (d11)--(d16) (d12)--(d13) (d15)--(d13) (d15)--(d14) (d15)--(d16) (d15)--(d19) (d15)--(d20)
  (d15)--(d21) (d15)--(d26) (d15)--(d27) (d15)--(d29) (d15)--(d31) (d15)--(d33) (d15)--(d30)
  (d15)--(d38) (d15)--(d39) (d16)--(d23) (d16)--(d30) (d16)--(d19) (d16)--(d21) (d16)--(d71)
  (d23)--(d24) (d23)--(d30) (d24)--(d32) (d24)--(d70) (d23)--(d71) (d71)--(d72) (d71)--(d73)
  (d72)--(d73) (d72)--(d74) (d73)--(d74) (d17)--(d29) (d18)--(d25) (d18)--(d34) (d25)--(d27)
  (d28)--(d30) (d26)--(d29) (d26)--(d34) (d26)--(d20) (d26)--(d21) (d26)--(d27) (d29)--(d34)
  (d29)--(d35) (d29)--(d27) (d29)--(d33) (d29)--(d30) (d29)--(d31) (d29)--(d37) (d29)--(d39)
  (d20)--(d33) (d20)--(d21) (d21)--(d27) (d21)--(d31) (d27)--(d31) (d27)--(d33) (d27)--(d38)
  (d22)--(d29) (d19)--(d27) (d19)--(d31) (d19)--(d30) (d30)--(d32) (d30)--(d38) (d30)--(d43)
  (d30)--(d31) (d30)--(d40) (d34)--(d35) (d34)--(d36) (d34)--(d41) (d35)--(d36) (d35)--(d39)
  (d36)--(d41) (d36)--(d33) (d41)--(d39) (d41)--(d42) (d31)--(d33) (d31)--(d37) (d38)--(d40)
  (d38)--(d43) (d40)--(d44) (d43)--(d44) (d43)--(d50) (d43)--(d47) (d38)--(d42) (d42)--(d48)
  (d42)--(d47) (d42)--(d46) (d42)--(d49) (d45)--(d46) (d46)--(d47) (d45)--(d49) (d47)--(d49)
  (d47)--(d51) (d49)--(d51) (d47)--(d48) (d68)--(d69);
\end{scope}

% sub-captions
\node[subcap] (capa) at (218,537) {(a) Friendships};
\node[subcap] (capb) at (860,537) {(b) Group nominations};
\node[subcap] (capc) at (242,1096) {(c) Short-survey interactions};
\node[subcap] (capc2) at (237,1136) {of one day};
\node[subcap] (capd) at (888,1096) {(d) Facebook friendships};

\end{tikzpicture}
\end{document}
